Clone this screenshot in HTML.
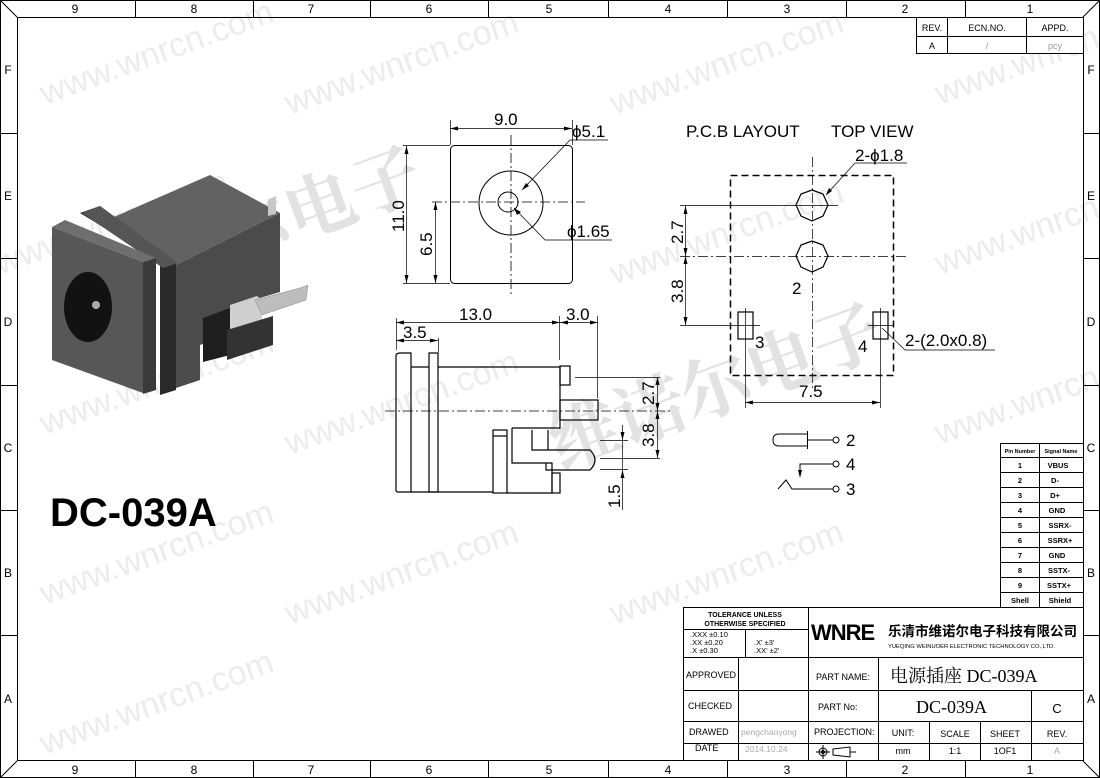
<!DOCTYPE html>
<html><head><meta charset="utf-8"><style>
html,body{margin:0;padding:0;background:#fff}
svg{display:block;font-family:"Liberation Sans","Noto Sans CJK SC",sans-serif}
</style></head><body>
<svg width="1100" height="778" viewBox="0 0 1100 778" xmlns="http://www.w3.org/2000/svg">
<!-- watermarks -->
<g fill="#ececec" font-size="34">
<text transform="translate(45,105) rotate(-20)">www.wnrcn.com</text>
<text transform="translate(290,115) rotate(-20)">www.wnrcn.com</text>
<text transform="translate(615,115) rotate(-20)">www.wnrcn.com</text>
<text transform="translate(940,105) rotate(-20)">www.wnrcn.com</text>
<text transform="translate(0,275) rotate(-20)">www.wnrcn.com</text>
<text transform="translate(615,285) rotate(-20)">www.wnrcn.com</text>
<text transform="translate(940,275) rotate(-20)">www.wnrcn.com</text>
<text transform="translate(45,435) rotate(-20)">www.wnrcn.com</text>
<text transform="translate(290,455) rotate(-20)">www.wnrcn.com</text>
<text transform="translate(940,445) rotate(-20)">www.wnrcn.com</text>
<text transform="translate(45,605) rotate(-20)">www.wnrcn.com</text>
<text transform="translate(290,625) rotate(-20)">www.wnrcn.com</text>
<text transform="translate(615,625) rotate(-20)">www.wnrcn.com</text>
<text transform="translate(45,755) rotate(-20)">www.wnrcn.com</text>
</g>
<g fill="#e2e2e2" font-size="70" font-weight="bold" style="font-family:'Noto Serif CJK SC',serif">
<text transform="translate(230,265) rotate(-20)">尔电子</text>
<text transform="translate(560,470) rotate(-20)">维诺尔电子</text>
</g>
<!-- border -->
<g stroke="#000" fill="none" stroke-width="1">
<rect x="0.5" y="0.5" width="1099" height="777"/>
<rect x="17.5" y="17.5" width="1066" height="743"/>
<line x1="0" y1="0" x2="17" y2="17"/><line x1="1100" y1="0" x2="1083" y2="17"/>
<line x1="0" y1="778" x2="17" y2="761"/><line x1="1100" y1="778" x2="1083" y2="761"/>
<line x1="135.5" y1="0" x2="135.5" y2="17"/><line x1="253.5" y1="0" x2="253.5" y2="17"/><line x1="370.5" y1="0" x2="370.5" y2="17"/><line x1="488.5" y1="0" x2="488.5" y2="17"/><line x1="608.5" y1="0" x2="608.5" y2="17"/><line x1="727.5" y1="0" x2="727.5" y2="17"/><line x1="846.5" y1="0" x2="846.5" y2="17"/><line x1="965.5" y1="0" x2="965.5" y2="17"/>
<line x1="135.5" y1="761" x2="135.5" y2="778"/><line x1="253.5" y1="761" x2="253.5" y2="778"/><line x1="370.5" y1="761" x2="370.5" y2="778"/><line x1="488.5" y1="761" x2="488.5" y2="778"/><line x1="608.5" y1="761" x2="608.5" y2="778"/><line x1="727.5" y1="761" x2="727.5" y2="778"/><line x1="846.5" y1="761" x2="846.5" y2="778"/><line x1="965.5" y1="761" x2="965.5" y2="778"/>
<line x1="0" y1="133.5" x2="17" y2="133.5"/><line x1="0" y1="258.5" x2="17" y2="258.5"/><line x1="0" y1="385.5" x2="17" y2="385.5"/><line x1="0" y1="510.5" x2="17" y2="510.5"/><line x1="0" y1="635.5" x2="17" y2="635.5"/>
<line x1="1083" y1="133.5" x2="1100" y2="133.5"/><line x1="1083" y1="258.5" x2="1100" y2="258.5"/><line x1="1083" y1="385.5" x2="1100" y2="385.5"/><line x1="1083" y1="510.5" x2="1100" y2="510.5"/><line x1="1083" y1="635.5" x2="1100" y2="635.5"/>
</g>
<g font-size="12" text-anchor="middle" fill="#000">
<text x="75" y="13">9</text><text x="194" y="13">8</text><text x="311" y="13">7</text><text x="429" y="13">6</text><text x="549" y="13">5</text><text x="668" y="13">4</text><text x="787" y="13">3</text><text x="905" y="13">2</text><text x="1030" y="13">1</text>
<text x="75" y="774">9</text><text x="194" y="774">8</text><text x="311" y="774">7</text><text x="429" y="774">6</text><text x="549" y="774">5</text><text x="668" y="774">4</text><text x="787" y="774">3</text><text x="905" y="774">2</text><text x="1030" y="774">1</text>
<text x="8" y="74">F</text><text x="8" y="200">E</text><text x="8" y="326">D</text><text x="8" y="452">C</text><text x="8" y="577">B</text><text x="8" y="703">A</text>
<text x="1091" y="74">F</text><text x="1091" y="200">E</text><text x="1091" y="326">D</text><text x="1091" y="452">C</text><text x="1091" y="577">B</text><text x="1091" y="703">A</text>
</g>
<!-- rev block -->
<g stroke="#000" fill="none"><rect x="916.5" y="17.5" width="167" height="36" fill="#fff"/><line x1="916" y1="36.5" x2="1083" y2="36.5"/><line x1="947.5" y1="17" x2="947.5" y2="54"/><line x1="1026.5" y1="17" x2="1026.5" y2="54"/></g>
<g font-size="9" text-anchor="middle"><text x="932" y="31">REV.</text><text x="987" y="31">ECN.NO.</text><text x="1055" y="31">APPD.</text><text x="932" y="49">A</text><text x="987" y="49" fill="#999">/</text><text x="1055" y="49" fill="#999">pcy</text></g>

<!-- 3D photo -->
<g>
<polygon points="107,220 210,175 280,213 170,268" fill="#626262"/>
<polygon points="170,268 280,213 280,292 243,303 243,330 200,345 200,380 170,390" fill="#4b4b4b"/>
<polygon points="268,200 276,196 276,214 268,216" fill="#c8c8c8"/>
<polygon points="203,318 230,308 230,355 203,362" fill="#1e1e1e"/>
<polygon points="230,305 257,296 262,300 262,335 230,345" fill="#cfcfcf"/>
<polygon points="255,300 300,288 308,285 306,300 262,315" fill="#bdbdbd" stroke="#888" stroke-width="0.5"/>
<polygon points="227,330 273,316 273,345 227,360" fill="#333"/>
<polygon points="80,213 100,206 176,262 176,390 160,395 160,262" fill="#2a2a2a"/>
<polygon points="82,213 100,206 178,263 163,268" fill="#555"/>
<polygon points="52,227 65,220 156,258 143,262" fill="#6e6e6e"/>
<polygon points="52,227 143,262 143,393 52,360" fill="#575757"/>
<polygon points="143,262 156,258 156,390 143,394" fill="#3a3a3a"/>
<ellipse cx="88" cy="307" rx="24" ry="35" fill="#121212"/>
<circle cx="96" cy="305" r="4" fill="#aaa"/>
</g>
<text x="50" y="526" font-size="40" font-weight="bold">DC-039A</text>

<!-- front view -->
<g stroke="#000" fill="none" stroke-width="1">
<rect x="450.5" y="145.5" width="122" height="138" rx="4"/>
<circle cx="511" cy="203" r="32"/>
<circle cx="508" cy="202" r="10"/>
<line x1="511" y1="135" x2="511" y2="297" stroke-dasharray="10,3,2,3" stroke-width="0.8"/>
<line x1="432" y1="202" x2="585" y2="202" stroke-dasharray="10,3,2,3" stroke-width="0.8"/>
<line x1="450.5" y1="120" x2="450.5" y2="145" stroke-width="0.7"/><line x1="572.5" y1="120" x2="572.5" y2="145" stroke-width="0.7"/>
<line x1="450" y1="128.5" x2="572" y2="128.5" stroke-width="0.7"/>
<line x1="403" y1="145.5" x2="450" y2="145.5" stroke-width="0.7"/><line x1="403" y1="283.5" x2="450" y2="283.5" stroke-width="0.7"/>
<line x1="406.5" y1="146" x2="406.5" y2="283" stroke-width="0.7"/>
<line x1="435.5" y1="202" x2="435.5" y2="283" stroke-width="0.7"/>
<polyline points="522,190 570,140 608,140" stroke-width="0.7"/>
<polyline points="514,208 545,240 612,240" stroke-width="0.7"/>
</g>
<g fill="#000">
<polygon points="450,128.5 458,126.5 458,130.5"/><polygon points="572,128.5 564,126.5 564,130.5"/>
<polygon points="406.5,146 404.5,154 408.5,154"/><polygon points="406.5,283 404.5,275 408.5,275"/>
<polygon points="435.5,202 433.5,210 437.5,210"/><polygon points="435.5,283 433.5,275 437.5,275"/>
<polygon points="522,190 526,183 529,186"/><polygon points="514,208 517,215 521,212"/>
</g>
<g font-size="17"><text x="494" y="125">9.0</text><text x="572" y="137">ϕ5.1</text><text x="567" y="237">ϕ1.65</text>
<text transform="translate(404,232) rotate(-90)">11.0</text><text transform="translate(432,256) rotate(-90)">6.5</text></g>

<!-- side view -->
<g stroke="#000" fill="none" stroke-width="1.2">
<path d="M411,492 L398,492 Q396,492 396,490 L396,356 Q396,353 400,353 L411,353 Z"/>
<rect x="429" y="353" width="9" height="139"/>
<line x1="411" y1="367" x2="429" y2="367"/>
<line x1="411" y1="492" x2="438" y2="492"/>
<path d="M438,367 L560,367 L560,428 L512,428"/>
<rect x="560" y="366" width="10" height="19"/>
<rect x="560" y="400" width="38" height="20"/>
<rect x="493" y="430" width="14" height="63"/><line x1="493" y1="436" x2="507" y2="436"/>
<path d="M512,428 L512,463 L552,463 L552,493 L507,493"/>
<rect x="552" y="473" width="8" height="20"/>
<path d="M532,430 L532,450 L590,450 Q600,460 590,470 L546,470 L546,463"/>
<line x1="548" y1="430" x2="548" y2="450"/>
<line x1="438" y1="492" x2="493" y2="492"/>
</g>
<g stroke="#000" fill="none" stroke-width="0.7">
<line x1="385" y1="411" x2="670" y2="411" stroke-dasharray="10,3,2,3"/>
<line x1="396.5" y1="318" x2="396.5" y2="350"/><line x1="438.5" y1="338" x2="438.5" y2="352"/>
<line x1="559.5" y1="316" x2="559.5" y2="360"/><line x1="597.5" y1="316" x2="597.5" y2="398"/>
<line x1="396" y1="322.5" x2="598" y2="322.5"/>
<line x1="396" y1="340.5" x2="438" y2="340.5"/>
<line x1="575" y1="377.5" x2="660" y2="377.5"/><line x1="600" y1="458.5" x2="660" y2="458.5"/>
<line x1="657.5" y1="377" x2="657.5" y2="458"/>
<line x1="600" y1="440.5" x2="628" y2="440.5"/><line x1="600" y1="469.5" x2="628" y2="469.5"/>
<line x1="622.5" y1="425" x2="622.5" y2="510"/>
</g>
<g fill="#000">
<polygon points="396,322.5 404,320.5 404,324.5"/><polygon points="560,322.5 552,320.5 552,324.5"/><polygon points="560,322.5 568,320.5 568,324.5"/><polygon points="598,322.5 590,320.5 590,324.5"/>
<polygon points="396,340.5 404,338.5 404,342.5"/><polygon points="438,340.5 430,338.5 430,342.5"/>
<polygon points="657.5,377 655.5,385 659.5,385"/><polygon points="657.5,411 655.5,403 659.5,403"/><polygon points="657.5,411 655.5,419 659.5,419"/><polygon points="657.5,458 655.5,450 659.5,450"/>
<polygon points="622.5,440 620.5,432 624.5,432"/><polygon points="622.5,470 620.5,478 624.5,478"/>
</g>
<g font-size="17"><text x="459" y="320">13.0</text><text x="566" y="320">3.0</text><text x="403" y="338">3.5</text>
<text transform="translate(654,405) rotate(-90)">2.7</text><text transform="translate(654,447) rotate(-90)">3.8</text><text transform="translate(620,508) rotate(-90)">1.5</text></g>

<!-- PCB layout -->
<g font-size="17"><text x="686" y="137">P.C.B LAYOUT</text><text x="831" y="137">TOP VIEW</text></g>
<g stroke="#000" fill="none">
<rect x="730.5" y="175.5" width="163" height="200" stroke-width="1.5" stroke-dasharray="7,4"/>
<polygon points="812,190 823,194 828,205 823,216 812,221 801,216 796,205 801,194" stroke-width="1.2"/>
<polygon points="812,241 823,245 828,256 823,267 812,272 801,267 796,256 801,245" stroke-width="1.2"/>
<rect x="738" y="312" width="15" height="27" stroke-width="1.2"/>
<rect x="873" y="312" width="15" height="27" stroke-width="1.2"/>
<g stroke-width="0.7">
<line x1="812.5" y1="157" x2="812.5" y2="388" stroke-dasharray="10,3,2,3"/>
<line x1="680" y1="256.5" x2="908" y2="256.5" stroke-dasharray="10,3,2,3"/>
<line x1="680" y1="205.5" x2="838" y2="205.5"/>
<line x1="680" y1="325.5" x2="760" y2="325.5"/><line x1="868" y1="325.5" x2="894" y2="325.5"/>
<line x1="745.5" y1="308" x2="745.5" y2="408"/><line x1="880.5" y1="308" x2="880.5" y2="408"/>
<line x1="685.5" y1="206" x2="685.5" y2="325"/>
<line x1="745" y1="402.5" x2="880" y2="402.5"/>
<polyline points="826,195 855,163 907,163"/>
<polyline points="882,328 905,350 995,350"/>
</g></g>
<g fill="#000">
<polygon points="685.5,206 683.5,214 687.5,214"/><polygon points="685.5,256 683.5,248 687.5,248"/><polygon points="685.5,256 683.5,264 687.5,264"/><polygon points="685.5,325 683.5,317 687.5,317"/>
<polygon points="745,402.5 753,400.5 753,404.5"/><polygon points="880,402.5 872,400.5 872,404.5"/>
<polygon points="826,195 829,188 832,191"/>
</g>
<g font-size="17"><text x="855" y="161">2-ϕ1.8</text><text x="792" y="294">2</text><text x="755" y="348">3</text><text x="858" y="352">4</text><text x="905" y="346">2-(2.0x0.8)</text><text x="799" y="397">7.5</text>
<text transform="translate(683,244) rotate(-90)">2.7</text><text transform="translate(683,303) rotate(-90)">3.8</text></g>

<!-- schematic symbol -->
<g stroke="#000" fill="none" stroke-width="1">
<path d="M807,434 L779,434 Q773,434 773,440 Q773,446 779,446 L807,446"/>
<line x1="807.5" y1="431" x2="807.5" y2="449"/>
<line x1="807" y1="440" x2="833" y2="440"/><circle cx="836" cy="440" r="3"/>
<polyline points="800,471 800,464 833,464"/><circle cx="836" cy="464" r="3"/>
<polyline points="778,489 786,480 792,489 833,489"/><circle cx="836" cy="489" r="3"/>
</g>
<polygon points="800,478 798,470 802,470" fill="#000"/>
<g font-size="17"><text x="846" y="446">2</text><text x="846" y="470">4</text><text x="846" y="495">3</text></g>

<!-- pin table -->
<g stroke="#000" fill="#fff" stroke-width="1">
<rect x="1000.5" y="443.5" width="83" height="164"/>
</g>
<g stroke="#000" fill="none" stroke-width="1">
<line x1="1039.5" y1="443" x2="1039.5" y2="608"/>
<line x1="1000" y1="457.5" x2="1083" y2="457.5"/><line x1="1000" y1="472.5" x2="1083" y2="472.5"/><line x1="1000" y1="487.5" x2="1083" y2="487.5"/><line x1="1000" y1="502.5" x2="1083" y2="502.5"/><line x1="1000" y1="517.5" x2="1083" y2="517.5"/><line x1="1000" y1="532.5" x2="1083" y2="532.5"/><line x1="1000" y1="547.5" x2="1083" y2="547.5"/><line x1="1000" y1="562.5" x2="1083" y2="562.5"/><line x1="1000" y1="577.5" x2="1083" y2="577.5"/><line x1="1000" y1="592.5" x2="1083" y2="592.5"/>
</g>
<g font-size="7.5" font-weight="bold" text-anchor="middle"><text x="1020" y="453" font-size="5.5">Pin Number</text><text x="1061" y="453" font-size="5.5">Signal Name</text>
<text x="1020" y="468">1</text><text x="1058" y="468">VBUS</text><text x="1020" y="483">2</text><text x="1055" y="483">D-</text><text x="1020" y="498">3</text><text x="1055" y="498">D+</text><text x="1020" y="513">4</text><text x="1057" y="513">GND</text><text x="1020" y="528">5</text><text x="1060" y="528">SSRX-</text><text x="1020" y="543">6</text><text x="1060" y="543">SSRX+</text><text x="1020" y="558">7</text><text x="1057" y="558">GND</text><text x="1020" y="573">8</text><text x="1059" y="573">SSTX-</text><text x="1020" y="588">9</text><text x="1059" y="588">SSTX+</text><text x="1020" y="603">Shell</text><text x="1060" y="603">Shield</text></g>

<!-- title block -->
<g stroke="#000" fill="none" stroke-width="1">
<rect x="683.5" y="607.5" width="400" height="153" fill="#fff"/>
<line x1="808.5" y1="607" x2="808.5" y2="761"/>
<line x1="683" y1="629.5" x2="808" y2="629.5"/>
<line x1="683" y1="657.5" x2="1083" y2="657.5"/>
<line x1="683" y1="690.5" x2="1083" y2="690.5"/>
<line x1="683" y1="721.5" x2="1083" y2="721.5"/>
<line x1="683" y1="743.5" x2="1083" y2="743.5"/>
<line x1="738.5" y1="657" x2="738.5" y2="761"/>
<line x1="745.5" y1="629" x2="745.5" y2="657"/>
<line x1="878.5" y1="657" x2="878.5" y2="761"/>
<line x1="929.5" y1="721" x2="929.5" y2="761"/>
<line x1="980.5" y1="721" x2="980.5" y2="761"/>
<line x1="1031.5" y1="690" x2="1031.5" y2="761"/>
</g>
<g font-size="7" font-weight="bold" text-anchor="middle"><text x="745" y="617">TOLERANCE UNLESS</text><text x="745" y="626">OTHERWISE SPECIFIED</text></g>
<g font-size="7.5"><text x="690" y="637">.XXX  ±0.10</text><text x="690" y="645">.XX    ±0.20</text><text x="690" y="653">.X      ±0.30</text><text x="754" y="645">.X'      ±3'</text><text x="754" y="653">.XX'    ±2'</text></g>
<text x="811" y="640" font-size="22" font-weight="bold" letter-spacing="-1">WNRE</text>
<text x="888" y="636" font-size="13.5" font-weight="bold" style="font-family:'Noto Sans CJK SC',sans-serif">乐清市维诺尔电子科技有限公司</text>
<text x="888" y="648" font-size="5.8">YUEQING WEINUOER ELECTRONIC TECHNOLOGY CO.,LTD.</text>
<g font-size="9"><text x="686" y="678">APPROVED</text><text x="688" y="709">CHECKED</text><text x="689" y="735">DRAWED</text><text x="695" y="751">DATE</text>
<text x="816" y="680">PART  NAME:</text><text x="818" y="710">PART  No:</text><text x="814" y="735">PROJECTION:</text></g>
<text x="741" y="735" font-size="8.5" fill="#aaa">pengchaoyong</text><text x="745" y="752" font-size="8.5" fill="#aaa">2014.10.24</text>
<text x="890" y="682" font-size="18" style="font-family:'Liberation Serif','Noto Serif CJK SC',serif">电源插座 DC-039A</text>
<text x="916" y="713" font-size="18" style="font-family:'Liberation Serif',serif">DC-039A</text>
<text x="1057" y="713" font-size="13" text-anchor="middle">C</text>
<g font-size="9" text-anchor="middle"><text x="903" y="736">UNIT:</text><text x="955" y="737">SCALE</text><text x="1005" y="737">SHEET</text><text x="1057" y="737">REV.</text>
<text x="903" y="754">mm</text><text x="955" y="754">1:1</text><text x="1005" y="754">1OF1</text><text x="1057" y="754" fill="#aaa">A</text></g>
<g stroke="#000" fill="none" stroke-width="1"><circle cx="823" cy="752" r="4"/><circle cx="823" cy="752" r="1.5"/><line x1="816" y1="752" x2="830" y2="752"/><line x1="823" y1="745" x2="823" y2="759"/><polygon points="833,749 850,747 850,757 833,755"/><line x1="850" y1="752" x2="856" y2="752"/></g>
</svg>
</body></html>
